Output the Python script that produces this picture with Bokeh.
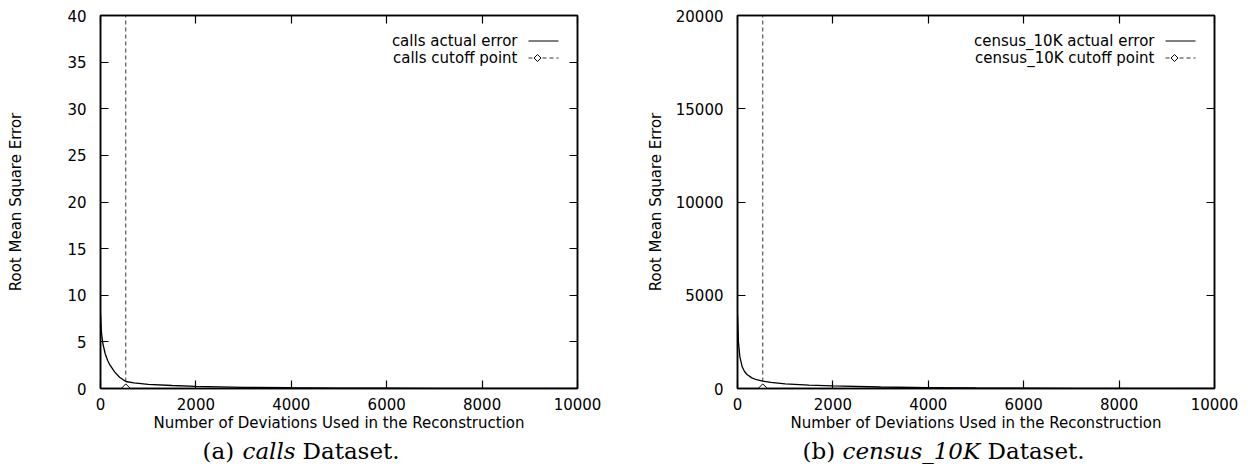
from math import pi

from bokeh.embed import file_html
from bokeh.resources import INLINE
from bokeh.layouts import row, column
from bokeh.plotting import figure
from bokeh.models import (Range1d, LinearAxis, SingleIntervalTicker, CustomJSTickFormatter,
                          Label, PolyAnnotation)

# Number of deviations kept in the reconstruction
deviations = [0, 20, 50, 100, 150, 200, 300, 400, 530, 700, 1000, 1500, 2000,
              3000, 4000, 5000, 6000, 7000, 8000, 9000, 10000]

# Root mean square error of the reconstruction
calls_error = [8.0, 6.0, 4.8, 3.7, 3.0, 2.5, 1.75, 1.2, 0.75, 0.6, 0.45, 0.32, 0.22,
               0.13, 0.08, 0.05, 0.03, 0.02, 0.01, 0.005, 0.0]
census_error = [4000, 2500, 1700, 1150, 900, 750, 570, 470, 400, 330, 250, 180, 140,
                80, 50, 30, 20, 12, 7, 3, 0]

# Chosen cutoff (number of deviations) for each dataset
calls_cutoff = 530
census_cutoff = 530

x_ticks_step = 2000
x_max = 10000

SANS = "DejaVu Sans"
SERIF = "DejaVu Serif"
FS = "15px"
CAP_FS = "23px"
MAIN_H = 438
CAP_H = 32


def panel(xs, ys, cutoff, y_max, y_step, name, border_left, border_right,
          ylabel_standoff):
    p = figure(width=border_left + 477 + border_right, height=MAIN_H,
               x_range=Range1d(0, x_max), y_range=Range1d(0, y_max),
               min_border_left=border_left, min_border_right=border_right,
               min_border_top=15, min_border_bottom=MAIN_H - 15 - 373,
               output_backend="svg", toolbar_location=None)
    p.grid.visible = False
    p.outline_line_color = "black"
    p.outline_line_width = 1.5
    p.background_fill_color = "white"
    p.border_fill_color = "white"

    xt = SingleIntervalTicker(interval=x_ticks_step)
    yt = SingleIntervalTicker(interval=y_step)
    xaxis = p.below[0]
    yaxis = p.left[0]
    xaxis.ticker = xt
    yaxis.ticker = yt
    xaxis.axis_label = "Number of Deviations Used in the Reconstruction"
    yaxis.axis_label = "Root Mean Square Error"

    # mirrored tick marks on the top and right edges, without labels
    blank = CustomJSTickFormatter(code="return ''")
    top = LinearAxis(ticker=xt, formatter=blank, major_label_standoff=0)
    right = LinearAxis(ticker=yt, formatter=blank, major_label_standoff=0)
    p.add_layout(right, "right")
    p.add_layout(top, "above")

    for ax in (xaxis, yaxis, top, right):
        ax.major_tick_in = 8
        ax.major_tick_out = 0
        ax.minor_tick_line_color = None
        ax.axis_line_color = "black"
        ax.axis_line_width = 1.5
        ax.major_tick_line_width = 1.2
        ax.major_label_text_font = SANS
        ax.major_label_text_font_size = FS
        ax.major_label_text_color = "black"
        ax.axis_label_text_font = SANS
        ax.axis_label_text_font_size = FS
        ax.axis_label_text_font_style = "normal"
        ax.axis_label_text_color = "black"
    yaxis.major_label_standoff = 10
    yaxis.axis_label_standoff = ylabel_standoff
    xaxis.major_label_standoff = 5
    xaxis.axis_label_standoff = 1

    # cutoff marker: vertical dashed line with a diamond on the x axis
    p.line([cutoff, cutoff], [0, y_max], line_color="#333333", line_width=1,
           line_dash="4 3")
    p.scatter([cutoff], [0], marker="square", angle=pi / 4, size=6.5,
              line_color="black", fill_color="white", line_width=1)

    # error curve
    p.line(xs, ys, line_color="black", line_width=1.3)

    # key (text on the left, sample on the right)
    row1, row2 = 347.5, 330.5
    for txt, yy in ((f"{name} actual error", row1), (f"{name} cutoff point", row2)):
        p.add_layout(Label(x=417, y=yy, x_units="screen", y_units="screen", text=txt,
                           text_align="right", text_baseline="middle",
                           text_font=SANS, text_font_size=FS, text_color="black"))
    p.add_layout(PolyAnnotation(xs=[428, 458], ys=[row1, row1], xs_units="screen",
                                ys_units="screen", fill_color=None, fill_alpha=0,
                                line_color="black", line_alpha=1, line_width=1.2))
    p.add_layout(PolyAnnotation(xs=[428, 458], ys=[row2, row2], xs_units="screen",
                                ys_units="screen", fill_color=None, fill_alpha=0,
                                line_color="#333333", line_alpha=1, line_width=1,
                                line_dash="4 3"))
    d = 3.5
    cx = 437
    p.add_layout(PolyAnnotation(xs=[cx - d, cx, cx + d, cx],
                                ys=[row2, row2 + d, row2, row2 - d],
                                xs_units="screen", ys_units="screen", fill_color="white",
                                fill_alpha=1, line_color="black", line_alpha=1,
                                line_width=1))
    return p


def caption(width, tag, name, x_tag, x_name, x_data):
    c = figure(width=width, height=CAP_H, x_range=Range1d(0, 1), y_range=Range1d(0, 1),
               min_border=0, x_axis_location=None, y_axis_location=None,
               output_backend="svg", toolbar_location=None)
    c.grid.visible = False
    c.outline_line_color = None
    c.border_fill_color = "white"
    y = 20
    for txt, x, style in ((tag, x_tag, "normal"), (name, x_name, "italic"),
                          ("Dataset.", x_data, "normal")):
        c.add_layout(Label(x=x, y=y, x_units="screen", y_units="screen", text=txt,
                           text_baseline="middle", text_font=SERIF,
                           text_font_style=style, text_font_size=CAP_FS,
                           text_color="black"))
    return c


p1 = panel(deviations, calls_error, calls_cutoff, 40, 5, "calls", 100, 47, 39)
p2 = panel(deviations, census_error, census_cutoff, 20000, 5000, "census_10K", 113, 34, 8)
# caption frames line up with the plot frames above them (left edges 100 and 113)
c1 = caption(624, "(a)", "calls", 102, 142, 202)
c2 = caption(624, "(b)", "census_10K", 65, 105, 250)

p = row(column(p1, c1), column(p2, c2))
open("out.html", "w").write(file_html(p, INLINE))
